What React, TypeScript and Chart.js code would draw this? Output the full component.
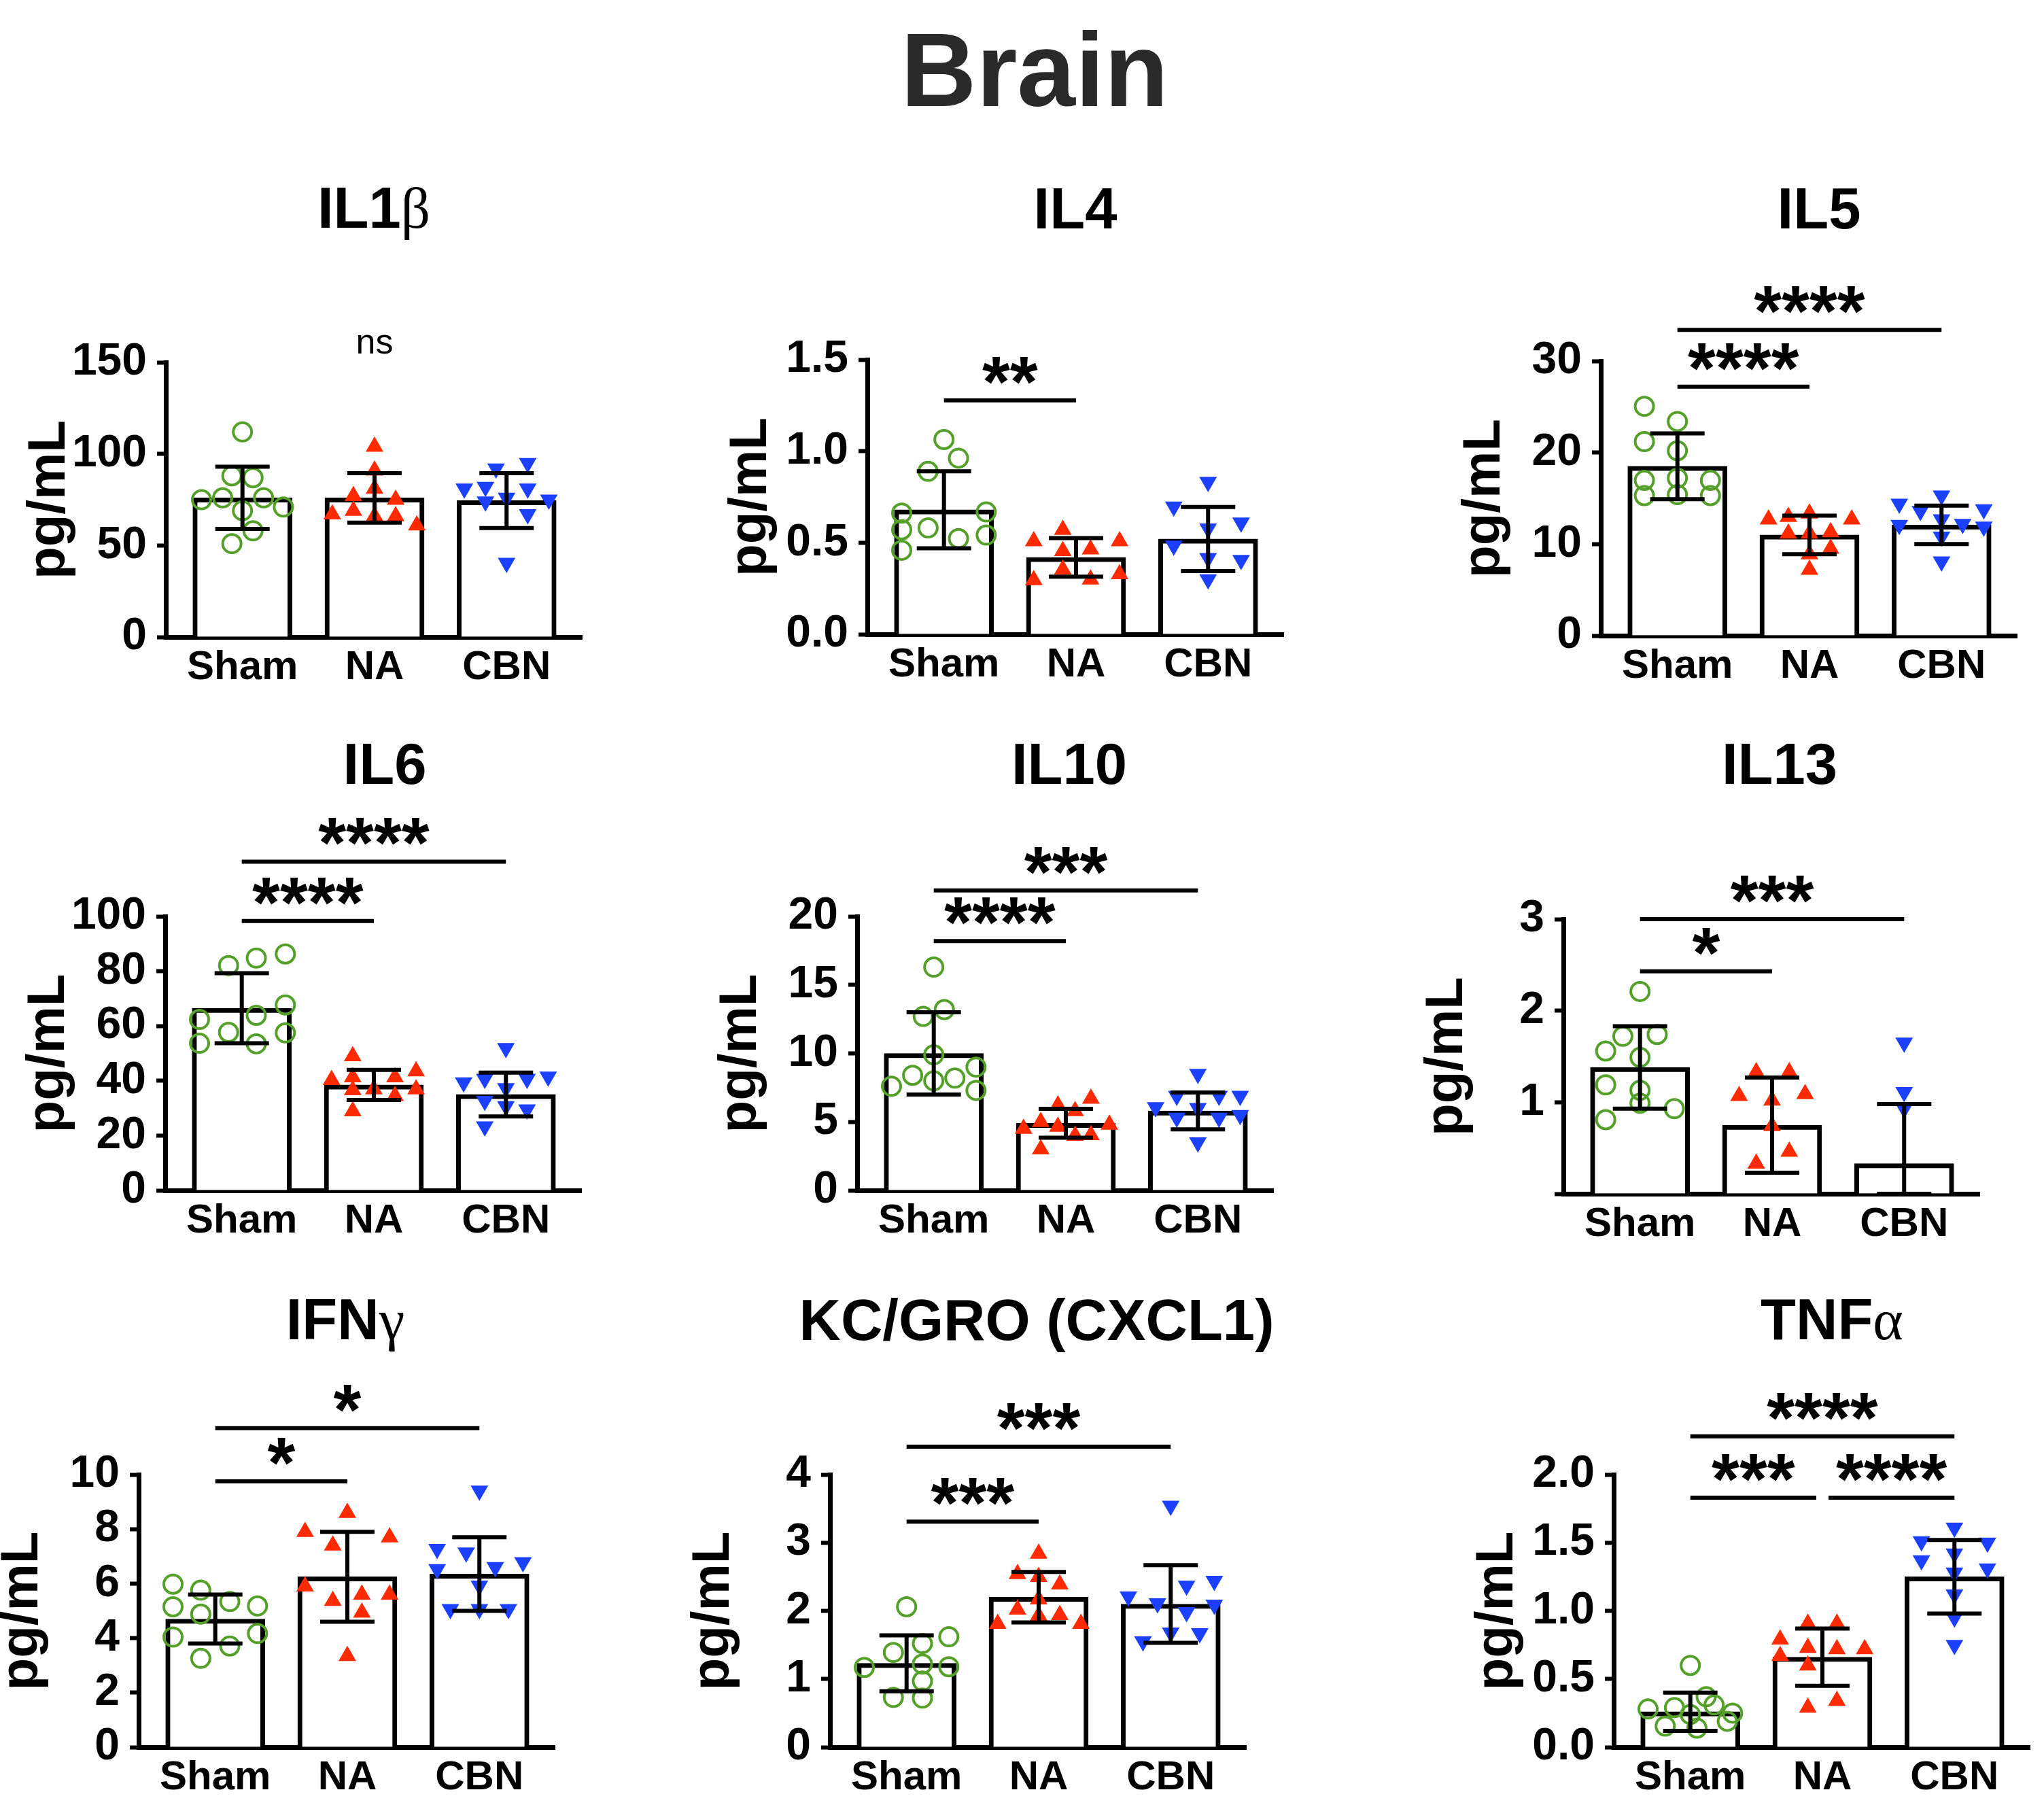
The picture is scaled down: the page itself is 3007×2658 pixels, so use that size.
import React, { useEffect, useRef } from 'react';
import { Chart, registerables } from 'chart.js';

Chart.register(...registerables);

const FONT = '"Liberation Sans", Arial, Helvetica, sans-serif';
const GREEN = '#55a02a';
const RED = '#ff2a00';
const BLUE = '#1c40ff';

const groups = ['Sham', 'NA', 'CBN'];

// ---------- IL1β ----------
const il1bTicks = [0, 50, 100, 150];
const il1bMean = [76, 76, 74.5];
const il1bSD = [17, 13.5, 15];
const il1bSham = [112, 88, 87, 75, 76, 76, 71, 69, 58, 51];
const il1bNA = [104, 91, 81, 77, 75, 67, 69, 66, 66, 61];
const il1bCBN = [95, 92, 81, 82, 81, 76, 75, 74, 67, 40.5];
const il1bJit = [
  [0, -0.08, 0.08, -0.31, -0.15, 0.16, 0.31, 0, 0.08, -0.08],
  [0, 0, 0, -0.16, 0.16, -0.32, -0.16, 0, 0.16, 0.32],
  [0.16, -0.08, -0.32, -0.16, 0.16, 0, 0.32, -0.16, 0.16, 0],
];
const il1bSig = [{ from: 1, to: 1, y: 160, text: 'ns', line: false }];

// ---------- IL4 ----------
const il4Ticks = [0, 0.5, 1, 1.5];
const il4Mean = [0.68, 0.42, 0.52];
const il4SD = [0.21, 0.105, 0.175];
const il4Sham = [1.064, 0.962, 0.89, 0.662, 0.668, 0.571, 0.581, 0.542, 0.523, 0.459];
const il4NA = [0.571, 0.509, 0.509, 0.455, 0.464, 0.354, 0.296, 0.3, 0.329];
const il4CBN = [0.832, 0.697, 0.61, 0.577, 0.484, 0.406, 0.416, 0.3];
const il4Jit = [
  [0, 0.11, -0.12, -0.32, 0.32, -0.32, -0.12, 0.32, 0.11, -0.32],
  [-0.1, -0.32, 0.33, -0.1, 0.11, -0.1, -0.32, 0.11, 0.33],
  [0, -0.26, 0.25, 0, -0.26, 0.25, 0, 0],
];
const il4Sig = [{ from: 0, to: 1, y: 1.277, text: '**', line: true }];

// ---------- IL5 ----------
const il5Ticks = [0, 10, 20, 30];
const il5Mean = [18.5, 11.0, 12.1];
const il5SD = [3.6, 2.1, 2.1];
const il5Sham = [25.05, 23.4, 21.2, 20.2, 16.96, 17.2, 16.96, 15.3, 15.4, 15.3];
const il5NA = [13.35, 12.7, 12.97, 12.7, 11.15, 11.15, 11.3, 8.9, 9.5, 7.2];
const il5CBN = [15.3, 14.4, 13.6, 13.8, 12.08, 12.7, 12.2, 11.9, 10.8, 8.1];
const il5Jit = [
  [-0.25, 0, -0.25, 0, -0.25, 0, 0.25, -0.25, 0, 0.25],
  [0, -0.31, -0.16, 0.32, -0.16, 0, 0.16, 0, 0.16, 0],
  [0, -0.32, -0.16, 0.32, -0.32, 0, 0.16, 0.32, 0, 0],
];
const il5Sig = [
  { from: 0, to: 1, y: 27.2, text: '****', line: true },
  { from: 0, to: 2, y: 33.4, text: '****', line: true },
];

// ---------- IL6 ----------
const il6Ticks = [0, 20, 40, 60, 80, 100];
const il6Mean = [66.5, 38.5, 35];
const il6SD = [12.8, 5.5, 8];
const il6Sham = [86.3, 84.8, 82.1, 67.7, 63.9, 62.4, 57.7, 57.5, 53.7, 53.5];
const il6NA = [49.0, 40.3, 43.5, 41.3, 41.3, 36.9, 36.6, 34.5, 36.9, 28.9];
const il6CBN = [51.9, 39.4, 40.7, 40.7, 41.5, 37.3, 32.6, 30.7, 29.5, 23.3];
const il6Jit = [
  [0.33, 0.11, -0.1, 0.33, 0.11, -0.32, -0.1, 0.33, -0.32, 0.11],
  [-0.16, -0.32, 0.32, -0.16, 0.16, 0, -0.16, 0.16, 0.32, -0.16],
  [0, -0.32, -0.16, 0.16, 0.32, 0, -0.16, 0, 0.16, -0.16],
];
const il6Sig = [
  { from: 0, to: 1, y: 98.3, text: '****', line: true },
  { from: 0, to: 2, y: 120, text: '****', line: true },
];

// ---------- IL10 ----------
const il10Ticks = [0, 5, 10, 15, 20];
const il10Mean = [10.0, 4.9, 5.8];
const il10SD = [3.0, 1.05, 1.35];
const il10Sham = [16.3, 13.2, 12.7, 9.9, 9.0, 8.4, 8.2, 8.0, 7.6, 7.3];
const il10NA = [6.7, 6.2, 5.8, 4.5, 5.0, 4.65, 4.8, 4.0, 4.05, 3.0];
const il10CBN = [8.5, 6.9, 6.9, 6.9, 6.07, 6.0, 5.3, 5.3, 5.5, 3.5];
const il10Jit = [
  [0, 0.08, -0.08, 0, 0.32, -0.16, 0.16, 0, -0.32, 0.32],
  [0.19, -0.06, 0.07, -0.32, -0.19, -0.06, 0.33, 0.07, 0.19, -0.19],
  [0, -0.16, 0.16, 0.32, -0.32, 0, -0.16, 0.16, 0.32, 0],
];
const il10Sig = [
  { from: 0, to: 1, y: 18.2, text: '****', line: true },
  { from: 0, to: 2, y: 21.9, text: '***', line: true },
];

// ---------- IL13 ----------
const il13Ticks = [0, 1, 2, 3];
const il13Mean = [1.38, 0.75, 0.33];
const il13SD = [0.45, 0.52, 0.65];
const il13Sham = [2.21, 1.72, 1.74, 1.56, 1.49, 1.19, 1.13, 0.99, 0.93, 0.81];
const il13NA = [1.33, 1.33, 1.07, 1.09, 1.02, 0.74, 0.46, 0.33];
const il13CBN = [1.65, 1.11, 0.93];
const il13Jit = [
  [0, -0.13, 0.13, -0.26, 0, -0.26, 0, 0, 0.26, -0.26],
  [-0.12, 0.13, -0.25, 0.25, 0, 0, 0.13, -0.12],
  [0, 0, 0],
];
const il13Sig = [
  { from: 0, to: 1, y: 2.43, text: '*', line: true },
  { from: 0, to: 2, y: 3.0, text: '***', line: true },
];

// ---------- IFNγ ----------
const ifngTicks = [0, 2, 4, 6, 8, 10];
const ifngMean = [4.7, 6.25, 6.35];
const ifngSD = [0.9, 1.65, 1.35];
const ifngSham = [5.98, 5.76, 5.34, 5.18, 5.15, 4.88, 4.04, 4.17, 3.71, 3.26];
const ifngNA = [8.6, 7.9, 7.7, 7.4, 5.9, 5.6, 5.37, 5.6, 4.94, 3.35];
const ifngCBN = [9.41, 7.27, 7.14, 6.53, 6.6, 6.78, 5.92, 5.06, 5.06, 5.06];
const ifngJit = [
  [-0.32, -0.11, 0.11, 0.32, -0.32, -0.11, -0.32, 0.32, 0.11, -0.11],
  [0, -0.32, 0.32, -0.11, -0.32, 0.32, -0.11, 0.11, 0.11, 0],
  [0, -0.32, -0.1, -0.32, 0.12, 0.33, 0, -0.22, 0, 0.22],
];
const ifngSig = [
  { from: 0, to: 1, y: 9.75, text: '*', line: true },
  { from: 0, to: 2, y: 11.7, text: '*', line: true },
];

// ---------- KC/GRO (CXCL1) ----------
const kcTicks = [0, 1, 2, 3, 4];
const kcMean = [1.23, 2.2, 2.1];
const kcSD = [0.41, 0.37, 0.57];
const kcSham = [2.06, 1.62, 1.52, 1.39, 1.17, 1.22, 1.18, 0.97, 0.73, 0.72];
const kcNA = [2.84, 2.54, 2.5, 2.39, 2.17, 2.02, 1.94, 1.93, 1.81, 1.81];
const kcCBN = [3.54, 2.37, 2.44, 2.21, 2.11, 2.09, 1.98, 1.68, 1.55, 1.67];
const kcJit = [
  [0, 0.32, 0.12, -0.1, -0.32, 0.12, 0.32, 0.12, -0.1, 0.12],
  [0, -0.16, 0, 0.16, 0, -0.16, 0.16, 0, -0.31, 0.32],
  [0, 0.12, 0.33, -0.32, -0.1, 0.33, 0.12, 0, -0.21, 0.22],
];
const kcSig = [
  { from: 0, to: 1, y: 3.31, text: '***', line: true },
  { from: 0, to: 2, y: 4.41, text: '***', line: true },
];

// ---------- TNFα ----------
const tnfTicks = [0, 0.5, 1, 1.5, 2];
const tnfMean = [0.26, 0.66, 1.25];
const tnfSD = [0.14, 0.21, 0.27];
const tnfSham = [0.6, 0.37, 0.28, 0.29, 0.31, 0.25, 0.24, 0.155, 0.14, 0.19];
const tnfNA = [0.907, 0.907, 0.79, 0.73, 0.72, 0.72, 0.67, 0.6, 0.34, 0.29];
const tnfCBN = [1.61, 1.51, 1.5, 1.42, 1.37, 1.31, 1.28, 1.12, 0.95, 0.75];
const tnfJit = [
  [0, 0.12, -0.32, -0.12, 0.18, 0.32, 0, -0.19, 0.05, 0.28],
  [-0.11, 0.11, -0.32, -0.11, 0.11, 0.32, -0.32, -0.11, 0.11, -0.11],
  [0, -0.25, 0.25, 0, -0.25, 0.25, 0, 0, 0, 0],
];
const tnfSig = [
  { from: 0, to: 1, y: 1.83, text: '***', line: true },
  { from: 1, to: 2, y: 1.83, text: '****', line: true },
  { from: 0, to: 2, y: 2.28, text: '****', line: true },
];

// panel table built from the arrays above
const panels = [
  { name: 'IL1', greek: 'β', ticks: il1bTicks, mean: il1bMean, sd: il1bSD, pts: [il1bSham, il1bNA, il1bCBN], jit: il1bJit, sig: il1bSig, dec: 0, hideZero: false },
  { name: 'IL4', greek: '', ticks: il4Ticks, mean: il4Mean, sd: il4SD, pts: [il4Sham, il4NA, il4CBN], jit: il4Jit, sig: il4Sig, dec: 1, hideZero: false },
  { name: 'IL5', greek: '', ticks: il5Ticks, mean: il5Mean, sd: il5SD, pts: [il5Sham, il5NA, il5CBN], jit: il5Jit, sig: il5Sig, dec: 0, hideZero: false },
  { name: 'IL6', greek: '', ticks: il6Ticks, mean: il6Mean, sd: il6SD, pts: [il6Sham, il6NA, il6CBN], jit: il6Jit, sig: il6Sig, dec: 0, hideZero: false },
  { name: 'IL10', greek: '', ticks: il10Ticks, mean: il10Mean, sd: il10SD, pts: [il10Sham, il10NA, il10CBN], jit: il10Jit, sig: il10Sig, dec: 0, hideZero: false },
  { name: 'IL13', greek: '', ticks: il13Ticks, mean: il13Mean, sd: il13SD, pts: [il13Sham, il13NA, il13CBN], jit: il13Jit, sig: il13Sig, dec: 0, hideZero: true },
  { name: 'IFN', greek: 'γ', ticks: ifngTicks, mean: ifngMean, sd: ifngSD, pts: [ifngSham, ifngNA, ifngCBN], jit: ifngJit, sig: ifngSig, dec: 0, hideZero: false },
  { name: 'KC/GRO (CXCL1)', greek: '', ticks: kcTicks, mean: kcMean, sd: kcSD, pts: [kcSham, kcNA, kcCBN], jit: kcJit, sig: kcSig, dec: 0, hideZero: false },
  { name: 'TNF', greek: 'α', ticks: tnfTicks, mean: tnfMean, sd: tnfSD, pts: [tnfSham, tnfNA, tnfCBN], jit: tnfJit, sig: tnfSig, dec: 1, hideZero: false },
];

// page layout (pixel positions of each plot area and its title)
const layout = [
  { left: 244, top: 533, bottom: 937, tx: 550, ty: 306 },
  { left: 1276, top: 529, bottom: 933, tx: 1582, ty: 306 },
  { left: 2355, top: 531, bottom: 935, tx: 2676, ty: 306 },
  { left: 243, top: 1348, bottom: 1751, tx: 566, ty: 1123 },
  { left: 1261, top: 1348, bottom: 1751, tx: 1573, ty: 1123 },
  { left: 2300, top: 1352, bottom: 1756, tx: 2618, ty: 1123 },
  { left: 204, top: 2169, bottom: 2570, tx: 508, ty: 1941 },
  { left: 1221, top: 2169, bottom: 2570, tx: 1525, ty: 1941 },
  { left: 2374, top: 2169, bottom: 2570, tx: 2695, ty: 1941 },
];

const PAD_TOP = 170;
const YAXIS_W = 210;
const XAXIS_H = 110;
const PAD_RIGHT = 30;
const PLOT_W = 612;
const X_MIN = -0.58;
const X_MAX = 2.57;

const markers = [
  { pointStyle: 'circle', r: 13.5, bg: 'rgba(0,0,0,0)', bc: GREEN, bw: 4, rot: 0 },
  { pointStyle: 'triangle', r: 15, bg: RED, bc: RED, bw: 0, rot: 0 },
  { pointStyle: 'triangle', r: 15, bg: BLUE, bc: BLUE, bw: 0, rot: 180 },
];

function Panel({ p, lay }: any) {
  const ref = useRef<HTMLCanvasElement>(null);
  const W = YAXIS_W + PLOT_W + PAD_RIGHT;
  const H = PAD_TOP + (lay.bottom - lay.top) + XAXIS_H;

  useEffect(() => {
    const canvas = ref.current;
    if (!canvas) return;

    const errorBars = {
      id: 'errorBars',
      afterDatasetsDraw(chart: any) {
        const { ctx, scales } = chart;
        const x = scales.x, y = scales.y;
        ctx.save();
        ctx.strokeStyle = '#000';
        ctx.lineWidth = 6;
        p.mean.forEach((m: number, i: number) => {
          const cx = x.getPixelForValue(i);
          const hi = y.getPixelForValue(m + p.sd[i]);
          const lo = y.getPixelForValue(Math.max(0, m - p.sd[i]));
          ctx.beginPath();
          ctx.moveTo(cx, hi); ctx.lineTo(cx, lo);
          ctx.moveTo(cx - 40, hi); ctx.lineTo(cx + 40, hi);
          ctx.moveTo(cx - 40, lo); ctx.lineTo(cx + 40, lo);
          ctx.stroke();
        });
        ctx.restore();
      },
    };

    const brackets = {
      id: 'brackets',
      afterDraw(chart: any) {
        const { ctx, scales } = chart;
        const x = scales.x, y = scales.y;
        ctx.save();
        ctx.fillStyle = '#000';
        ctx.strokeStyle = '#000';
        ctx.lineWidth = 6;
        p.sig.forEach((s: any) => {
          const py = y.getPixelForValue(s.y);
          let x1 = x.getPixelForValue(s.from);
          let x2 = x.getPixelForValue(s.to);
          if (s.line) {
            p.sig.forEach((o: any) => {
              if (o !== s && o.line && o.y === s.y) {
                if (o.from === s.to) x2 -= 9;
                if (o.to === s.from) x1 += 9;
              }
            });
            ctx.beginPath();
            ctx.moveTo(x1, py); ctx.lineTo(x2, py);
            ctx.stroke();
            const fs = 105;
            ctx.font = `bold ${fs}px ${FONT}`;
            ctx.textAlign = 'center';
            ctx.textBaseline = 'alphabetic';
            ctx.fillText(s.text, (x1 + x2) / 2, py - 50 + 0.56 * fs);
          } else {
            ctx.font = `52px ${FONT}`;
            ctx.textAlign = 'center';
            ctx.textBaseline = 'middle';
            ctx.fillText(s.text, (x1 + x2) / 2, py);
          }
        });
        ctx.restore();
      },
    };

    const datasets: any[] = [
      {
        type: 'bar',
        data: p.mean.map((m: number, i: number) => ({ x: i, y: m })),
        backgroundColor: '#ffffff',
        borderColor: '#000000',
        borderWidth: 7,
        borderSkipped: 'bottom',
        barThickness: 146,
        order: 5,
      },
      ...p.pts.map((vals: number[], g: number) => ({
        type: 'scatter',
        data: vals.map((v, k) => ({ x: g + p.jit[g][k], y: v })),
        pointStyle: markers[g].pointStyle,
        pointRadius: markers[g].r,
        pointBackgroundColor: markers[g].bg,
        pointBorderColor: markers[g].bc,
        pointBorderWidth: markers[g].bw,
        pointRotation: markers[g].rot,
        showLine: false,
        clip: false,
        order: 1,
      })),
    ];

    const chart = new Chart(canvas, {
      type: 'bar',
      data: { datasets },
      options: {
        responsive: false,
        animation: false,
        events: [],
        devicePixelRatio: 1,
        layout: { padding: { top: PAD_TOP, right: PAD_RIGHT, left: 0, bottom: 0 } },
        plugins: { legend: { display: false }, tooltip: { enabled: false }, title: { display: false } },
        scales: {
          x: {
            type: 'linear',
            offset: false,
            min: X_MIN,
            max: X_MAX,
            afterBuildTicks: (s: any) => { s.ticks = [0, 1, 2].map((v) => ({ value: v })); },
            afterFit: (s: any) => { s.height = XAXIS_H; },
            grid: { display: false, drawTicks: false, offset: false },
            border: { display: true, width: 7, color: '#000' },
            ticks: {
              autoSkip: false,
              maxRotation: 0,
              minRotation: 0,
              padding: 9,
              color: '#000',
              font: { family: FONT, size: 60, weight: 'bold' },
              callback: (v: any) => groups[Math.round(Number(v))] ?? '',
            },
          },
          y: {
            type: 'linear',
            min: p.ticks[0],
            max: p.ticks[p.ticks.length - 1],
            afterBuildTicks: (s: any) => { s.ticks = p.ticks.map((v: number) => ({ value: v })); },
            afterFit: (s: any) => { s.width = YAXIS_W; },
            grid: { display: true, drawOnChartArea: false, drawTicks: true, tickLength: 13, tickWidth: 6, tickColor: '#000' },
            border: { display: true, width: 7, color: '#000' },
            ticks: {
              autoSkip: false,
              padding: 15,
              color: '#000',
              font: { family: FONT, size: 66, weight: 'bold' },
              callback: (v: any) => (p.hideZero && Number(v) === 0 ? '' : Number(v).toFixed(p.dec)),
            },
            title: {
              display: true,
              text: 'pg/mL',
              color: '#000',
              font: { family: FONT, size: 78, weight: 'bold', lineHeight: 1 },
              padding: { top: 0, bottom: 0 },
            },
          },
        },
      } as any,
      plugins: [errorBars, brackets],
    } as any);

    return () => chart.destroy();
  }, []);

  return (
    <canvas
      ref={ref}
      width={W}
      height={H}
      style={{ position: 'absolute', left: lay.left - YAXIS_W, top: lay.top - PAD_TOP, width: W, height: H }}
    />
  );
}

export default function App() {
  return (
    <div style={{ position: 'absolute', left: 0, top: 0, width: 3007, height: 2658, background: '#fff', overflow: 'hidden', fontFamily: FONT }}>
      <div
        style={{
          position: 'absolute', left: 1522, top: 103, transform: 'translate(-50%, -50%)',
          fontSize: 154, fontWeight: 'bold', lineHeight: 1, color: '#2a2a2a', whiteSpace: 'nowrap',
        }}
      >
        Brain
      </div>
      {panels.map((p, i) => (
        <Panel key={i} p={p} lay={layout[i]} />
      ))}
      {panels.map((p, i) => (
        <div
          key={'t' + i}
          style={{
            position: 'absolute', left: layout[i].tx, top: layout[i].ty, transform: 'translate(-50%, -50%)',
            fontSize: 85, fontWeight: 'bold', lineHeight: 1, color: '#000', whiteSpace: 'nowrap',
          }}
        >
          {p.name}
          {p.greek ? (
            <span style={{ fontFamily: '"Liberation Serif", "DejaVu Serif", serif', fontWeight: 'normal' }}>{p.greek}</span>
          ) : null}
        </div>
      ))}
    </div>
  );
}
